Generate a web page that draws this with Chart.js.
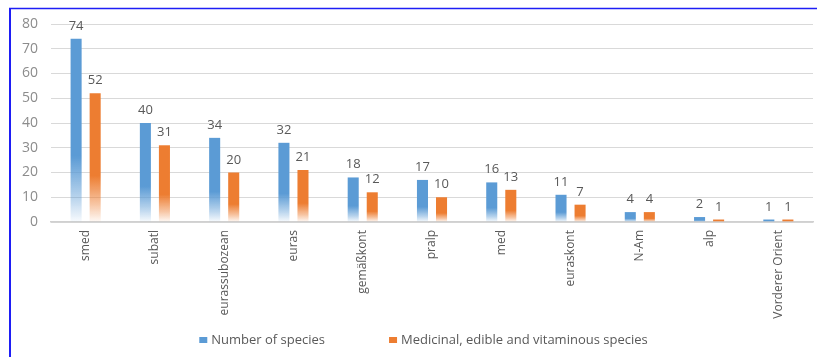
<!DOCTYPE html>
<html>
<head>
<meta charset="utf-8">
<title>Species by chorological group</title>
<script src="https://cdn.jsdelivr.net/npm/chart.js@4/dist/chart.umd.min.js"></script>
<style>
  html, body { margin: 0; padding: 0; background: #ffffff; }
  #wrap { width: 817px; height: 357px; }
</style>
</head>
<body>
<div id="wrap"><canvas id="chart" width="817" height="357"></canvas></div>
<script>
// Chorological groups and species counts
const categories = ['smed', 'subatl', 'eurassubozean', 'euras', 'gemäßkont', 'pralp', 'med', 'euraskont', 'N-Am', 'alp', 'Vorderer Orient'];
const numberOfSpecies = [74, 40, 34, 32, 18, 17, 16, 11, 4, 2, 1];
const medicinalSpecies = [52, 31, 20, 21, 12, 10, 13, 7, 4, 1, 1];
const seriesNames = ['Number of species', 'Medicinal, edible and vitaminous species'];
const yTicks = [0, 10, 20, 30, 40, 50, 60, 70, 80];

const BLUE = '#5B9BD5';
const ORANGE = '#ED7D31';
const FONT = "'Open Sans', 'Liberation Sans', sans-serif";

// Solid at the top of each bar, fading out towards the baseline
function fadeFill(base, mid, light) {
  return (ctx) => {
    const chart = ctx.chart;
    const { chartArea, scales } = chart;
    if (!chartArea || ctx.type !== 'data' || !scales.y) return base;
    const top = scales.y.getPixelForValue(ctx.raw);
    const bottom = scales.y.getPixelForValue(0);
    if (!isFinite(top) || bottom - top < 1) return base;
    const g = chart.ctx.createLinearGradient(0, top, 0, bottom);
    g.addColorStop(0, base);
    g.addColorStop(0.64, base);
    g.addColorStop(0.86, mid);
    g.addColorStop(1, light);
    return g;
  };
}

// Value printed above every bar
const valueLabels = {
  id: 'valueLabels',
  afterDatasetsDraw(chart) {
    const { ctx } = chart;
    ctx.save();
    ctx.font = '13px ' + FONT;
    ctx.fillStyle = '#595959';
    ctx.textAlign = 'center';
    ctx.textBaseline = 'alphabetic';
    chart.data.datasets.forEach((ds, i) => {
      chart.getDatasetMeta(i).data.forEach((bar, j) => {
        ctx.fillText(String(ds.data[j]), bar.x, bar.y - 9);
      });
    });
    ctx.restore();
  }
};

// Series key under the axis labels, widely spaced entries
const seriesKey = {
  id: 'seriesKey',
  afterDraw(chart) {
    const { ctx } = chart;
    const colors = chart.data.datasets.map((ds, i) => i === 0 ? BLUE : ORANGE);
    const names = chart.data.datasets.map(ds => ds.label);
    ctx.save();
    ctx.font = '13px ' + FONT;
    const box = 8, gap = 4, spacing = 64;
    const widths = names.map(n => ctx.measureText(n).width);
    const total = widths.reduce((s, w) => s + box + gap + w, 0) + spacing * (names.length - 1);
    let x = 423.5 - total / 2;
    const cy = 340;
    ctx.textBaseline = 'middle';
    ctx.textAlign = 'left';
    names.forEach((n, i) => {
      ctx.fillStyle = colors[i];
      ctx.fillRect(x, cy - 3, box, 6);
      ctx.fillStyle = '#595959';
      ctx.fillText(n, x + box + gap, cy);
      x += box + gap + widths[i] + spacing;
    });
    ctx.restore();
  }
};

// Blue frame along the left and top edges
const frame = {
  id: 'frame',
  afterDraw(chart) {
    const { ctx } = chart;
    ctx.save();
    ctx.strokeStyle = '#1e1ef5';
    ctx.lineWidth = 2;
    ctx.beginPath();
    ctx.moveTo(10, 8);
    ctx.lineTo(10, chart.height);
    ctx.stroke();
    ctx.lineWidth = 1.5;
    ctx.beginPath();
    ctx.moveTo(9, 8.5);
    ctx.lineTo(chart.width, 8.5);
    ctx.stroke();
    ctx.restore();
  }
};

new Chart(document.getElementById('chart'), {
  type: 'bar',
  data: {
    labels: categories,
    datasets: [
      {
        label: seriesNames[0],
        data: numberOfSpecies,
        backgroundColor: fadeFill(BLUE, 'rgba(91,155,213,0.45)', 'rgba(91,155,213,0.04)'),
        borderWidth: 0,
        categoryPercentage: 0.55,
        barPercentage: 0.58
      },
      {
        label: seriesNames[1],
        data: medicinalSpecies,
        backgroundColor: fadeFill(ORANGE, 'rgba(237,125,49,0.45)', 'rgba(237,125,49,0.04)'),
        borderWidth: 0,
        categoryPercentage: 0.55,
        barPercentage: 0.58
      }
    ]
  },
  options: {
    responsive: false,
    animation: false,
    devicePixelRatio: 1,
    layout: { padding: { left: 0, right: 4, top: 24, bottom: 33 } },
    plugins: {
      title: { display: false },
      tooltip: { enabled: false },
      legend: { display: false }
    },
    scales: {
      x: {
        grid: { display: false, drawTicks: false },
        border: { display: true, color: '#d0d0d0', width: 1.5 },
        ticks: {
          color: '#595959',
          font: { family: FONT, size: 12 },
          minRotation: 90,
          maxRotation: 90,
          autoSkip: false,
          padding: 8
        },
        afterFit(scale) { scale.height = 102; }
      },
      y: {
        min: 0,
        max: 80,
        afterBuildTicks(scale) { scale.ticks = yTicks.map(v => ({ value: v })); },
        grid: { color: '#d9d9d9', lineWidth: 1, drawTicks: false },
        border: { display: false },
        ticks: {
          color: '#8c8c8c',
          font: { family: FONT, size: 14 },
          padding: 13
        },
        afterFit(scale) { scale.width = 51; }
      }
    }
  },
  plugins: [valueLabels, seriesKey, frame]
});
</script>
</body>
</html>
